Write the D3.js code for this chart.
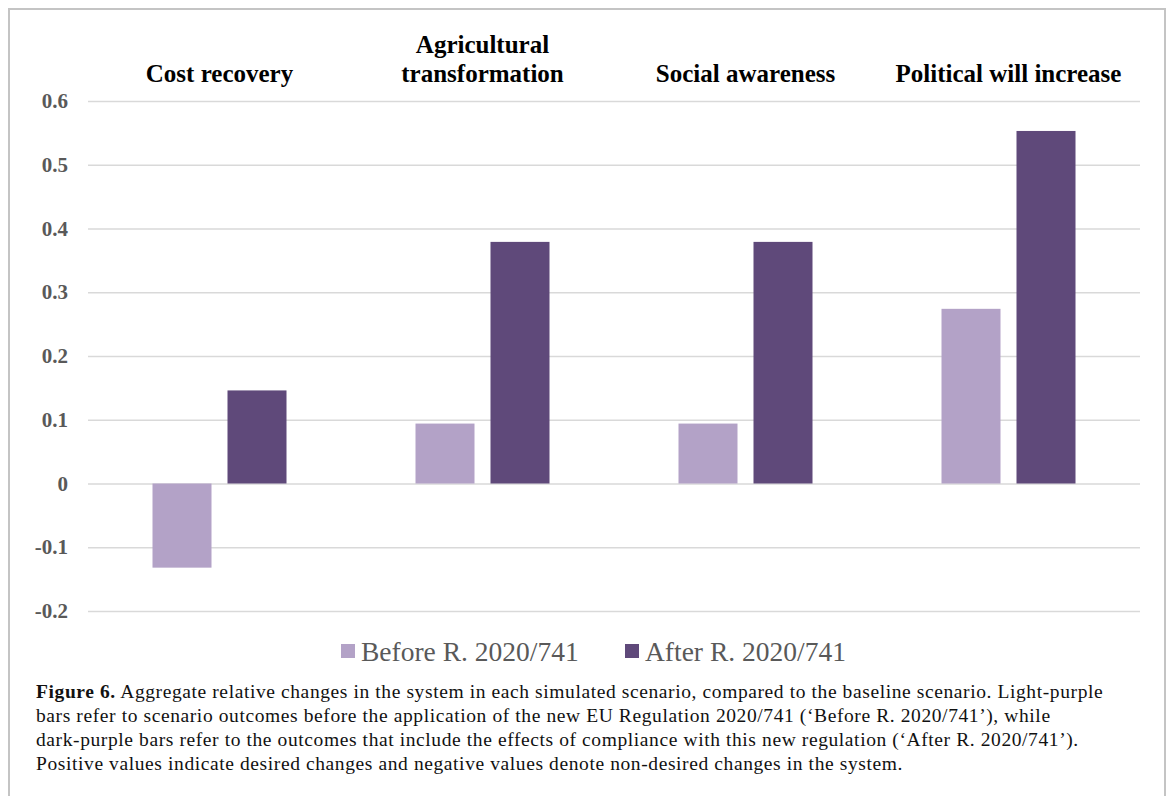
<!DOCTYPE html>
<html>
<head>
<meta charset="utf-8">
<script src="https://cdn.jsdelivr.net/npm/d3@7"></script>
<style>
  body { margin: 0; background: #fff; }
  .frame { fill: none; stroke: #c4c4c4; stroke-width: 2; }
  .cat-label { font-family: "Liberation Serif", "Times New Roman", serif; font-weight: bold; font-size: 25px; fill: #000; }
  .y-axis text { font-family: "Liberation Serif", serif; font-weight: bold; font-size: 21px; fill: #595959; }
  .y-axis line { stroke: #d9d9d9; stroke-width: 1.5; }
  .legend text { font-family: "Liberation Serif", serif; font-size: 27.5px; fill: #595959; }
  .caption { font-family: "Liberation Serif", serif; font-size: 19.5px; letter-spacing: 0.6px; fill: #111; }
</style>
</head>
<body>
<svg id="chartId" width="1171" height="796"></svg>
<script>
const categories = ["Cost recovery", "Agricultural transformation", "Social awareness", "Political will increase"];
const seriesNames = ["Before R. 2020/741", "After R. 2020/741"];
const beforeValues = [-0.132, 0.094, 0.094, 0.274];
const afterValues = [0.146, 0.379, 0.379, 0.553];
const yTicks = [-0.2, -0.1, 0, 0.1, 0.2, 0.3, 0.4, 0.5, 0.6];
const colors = ["#b3a2c7", "#5f497a"];

const captionLines = [
  [["Figure 6.", true], [" Aggregate relative changes in the system in each simulated scenario, compared to the baseline scenario. Light-purple", false]],
  [["bars refer to scenario outcomes before the application of the new EU Regulation 2020/741 (\u2018Before R. 2020/741\u2019), while", false]],
  [["dark-purple bars refer to the outcomes that include the effects of compliance with this new regulation (\u2018After R. 2020/741\u2019).", false]],
  [["Positive values indicate desired changes and negative values denote non-desired changes in the system.", false]]
];

const svg = d3.select("#chartId");
const plot = { left: 88, right: 1140, top: 101, bottom: 611 };

// outer frame, open at the bottom
svg.append("path")
  .attr("class", "frame")
  .attr("d", "M9,796 V9 H1165 V796");

const xScale = d3.scaleBand()
  .domain(categories)
  .range([plot.left, plot.right]);

const xSub = d3.scaleBand()
  .domain(seriesNames)
  .range([0, xScale.bandwidth()])
  .paddingInner(0.2133)
  .paddingOuter(0.86);

const yScale = d3.scaleLinear()
  .domain([-0.2, 0.6])
  .range([plot.bottom, plot.top]);

const yAxis = d3.axisLeft(yScale)
  .tickValues(yTicks)
  .tickSize(-(plot.right - plot.left))
  .tickPadding(20)
  .tickFormat(d => d === 0 ? "0" : d3.format(".1f")(d).replace("\u2212", "-"));

const yAxisG = svg.append("g")
  .attr("class", "y-axis")
  .attr("transform", `translate(${plot.left},0)`)
  .call(yAxis);
yAxisG.select(".domain").remove();

// bars
const rows = categories.map((c, i) => ({ cat: c, vals: [beforeValues[i], afterValues[i]] }));
const groups = svg.selectAll(".group")
  .data(rows)
  .enter().append("g")
  .attr("transform", d => `translate(${xScale(d.cat)},0)`);

groups.selectAll("rect")
  .data(d => d.vals.map((v, j) => ({ name: seriesNames[j], v: v, j: j })))
  .enter().append("rect")
  .attr("x", d => xSub(d.name))
  .attr("width", xSub.bandwidth())
  .attr("y", d => yScale(Math.max(0, d.v)))
  .attr("height", d => Math.abs(yScale(d.v) - yScale(0)))
  .attr("fill", d => colors[d.j]);

// category labels above the plot, wrapped when too wide
const maxLabel = 245;
categories.forEach(c => {
  const cx = xScale(c) + xScale.bandwidth() / 2;
  const t = svg.append("text")
    .attr("class", "cat-label")
    .attr("text-anchor", "middle")
    .attr("x", cx)
    .attr("y", 82)
    .text(c);
  if (t.node().getComputedTextLength() > maxLabel) {
    const words = c.split(" ");
    t.text(null);
    t.append("tspan").attr("x", cx).attr("y", 53).text(words.slice(0, -1).join(" "));
    t.append("tspan").attr("x", cx).attr("y", 82).text(words[words.length - 1]);
  }
});

// legend
const legend = svg.append("g").attr("class", "legend");
const legendX = [341, 625];
seriesNames.forEach((s, i) => {
  legend.append("rect")
    .attr("x", legendX[i]).attr("y", 644)
    .attr("width", 14).attr("height", 14)
    .attr("fill", colors[i]);
  legend.append("text")
    .attr("x", legendX[i] + 20).attr("y", 661)
    .text(s);
});

// caption
captionLines.forEach((line, i) => {
  const t = svg.append("text")
    .attr("class", "caption")
    .attr("x", 36)
    .attr("y", 698 + i * 24);
  line.forEach(([txt, bold]) => {
    t.append("tspan").attr("font-weight", bold ? "bold" : null).text(txt);
  });
});
</script>
</body>
</html>
